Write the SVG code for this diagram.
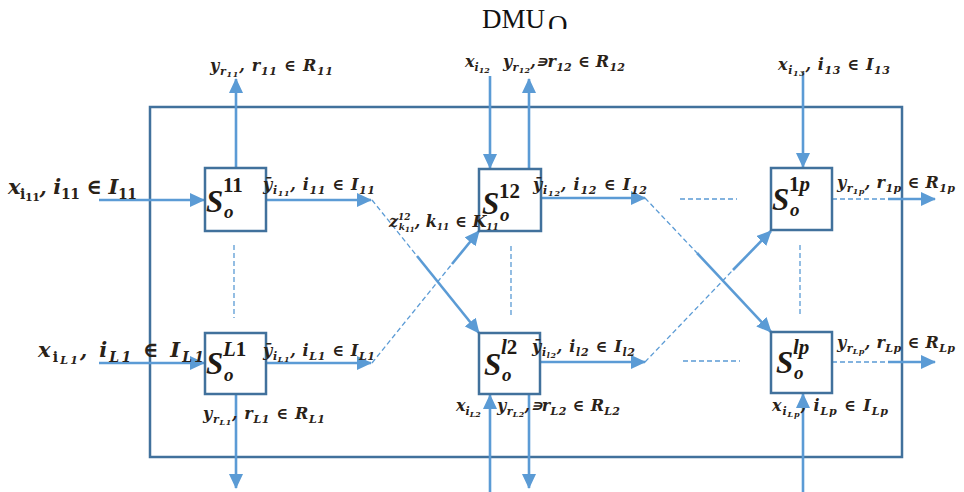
<svg xmlns="http://www.w3.org/2000/svg" width="964" height="492" viewBox="0 0 964 492">
<style>
.box{fill:#fff;stroke:#41719C;stroke-width:2.5}
.frame{fill:none;stroke:#41719C;stroke-width:2.5}
.ar{fill:none;stroke:#5B9BD5;stroke-width:2.6}
.ds{fill:none;stroke:#5B9BD5;stroke-width:1.3;stroke-dasharray:5 3}
.m{font-family:"DejaVu Serif",serif;font-style:italic;font-weight:bold;font-size:16px;fill:#2a2218}
.big{font-family:"DejaVu Serif",serif;font-style:italic;font-weight:bold;font-size:21px;fill:#2a2218}
.s1{font-size:11px}
.s2{font-size:8px}
.b1{font-size:14px}
.S{font-family:"Liberation Serif",serif;font-style:italic;font-weight:bold;font-size:31px;fill:#1f1a14}
.sup{font-family:"Liberation Serif",serif;font-weight:bold;font-size:21px;fill:#1f1a14}
.sub{font-family:"Liberation Serif",serif;font-style:italic;font-weight:bold;font-size:19px;fill:#1f1a14}
.t{font-family:"Liberation Serif",serif;font-size:27px;fill:#111}
</style>
<defs>
<marker id="ah" viewBox="0 0 15 14" refX="14" refY="7" markerWidth="15" markerHeight="14" markerUnits="userSpaceOnUse" orient="auto">
<path d="M0,0 L15,7 L0,14 z" fill="#5B9BD5"/>
</marker>
<clipPath id="clipO"><rect x="540" y="0" width="40" height="29"/></clipPath>
</defs>

<text class="t" x="482" y="28">DMU</text>
<text class="t" x="548" y="34" font-size="18" clip-path="url(#clipO)">O</text>

<rect class="frame" x="150" y="107" width="752" height="350"/>

<g id="connectors">
<line class="ar" x1="236" y1="168" x2="236" y2="79" marker-end="url(#ah)"/>
<line class="ar" x1="490" y1="76" x2="490" y2="168" marker-end="url(#ah)"/>
<line class="ar" x1="529" y1="169" x2="529" y2="79" marker-end="url(#ah)"/>
<line class="ar" x1="803" y1="72" x2="803" y2="167" marker-end="url(#ah)"/>
<line class="ar" x1="99" y1="200" x2="204" y2="200" marker-end="url(#ah)"/>
<line class="ar" x1="99" y1="363" x2="204" y2="363" marker-end="url(#ah)"/>
<line class="ar" x1="266" y1="200" x2="371" y2="200" marker-end="url(#ah)"/>
<line class="ar" x1="266" y1="363" x2="371" y2="363" marker-end="url(#ah)"/>
<line class="ar" x1="541" y1="198" x2="645" y2="198" marker-end="url(#ah)"/>
<line class="ar" x1="540" y1="362" x2="645" y2="362" marker-end="url(#ah)"/>
<line class="ds" x1="372" y1="200" x2="417" y2="256"/>
<line class="ar" x1="417" y1="256" x2="479" y2="333" marker-end="url(#ah)"/>
<line class="ds" x1="372" y1="363" x2="452" y2="264"/>
<line class="ar" x1="452" y1="264" x2="479" y2="231" marker-end="url(#ah)"/>
<line class="ds" x1="645" y1="198" x2="697" y2="253"/>
<line class="ar" x1="697" y1="253" x2="771" y2="332" marker-end="url(#ah)"/>
<line class="ds" x1="645" y1="362" x2="733" y2="270"/>
<line class="ar" x1="733" y1="270" x2="771" y2="231" marker-end="url(#ah)"/>
<line class="ds" x1="832" y1="199" x2="890" y2="199"/>
<line class="ar" x1="888" y1="199" x2="935" y2="199" marker-end="url(#ah)"/>
<line class="ds" x1="832" y1="362" x2="890" y2="362"/>
<line class="ar" x1="888" y1="362" x2="935" y2="362" marker-end="url(#ah)"/>
<line class="ar" x1="236" y1="394" x2="236" y2="488" marker-end="url(#ah)"/>
<line class="ar" x1="490" y1="492" x2="490" y2="395" marker-end="url(#ah)"/>
<line class="ar" x1="529" y1="394" x2="529" y2="488" marker-end="url(#ah)"/>
<line class="ar" x1="803" y1="492" x2="803" y2="394" marker-end="url(#ah)"/>
<line class="ds" x1="234" y1="245" x2="234" y2="318"/>
<line class="ds" x1="511" y1="246" x2="511" y2="318"/>
<line class="ds" x1="800" y1="245" x2="800" y2="316"/>
<line class="ds" x1="680" y1="199" x2="737" y2="199"/>
<line class="ds" x1="683" y1="361" x2="740" y2="361"/>
</g>

<g id="node-S11">
<rect class="box" x="205" y="168" width="61" height="63"/>
<text class="S" x="206" y="212">S</text>
<text class="sup" x="223" y="192">11</text>
<text class="sub" x="224" y="218">o</text>
</g>
<g id="node-S12">
<rect class="box" x="479" y="169" width="62" height="62"/>
<text class="S" x="482" y="214">S</text>
<text class="sup" x="499" y="198">12</text>
<text class="sub" x="500" y="221">o</text>
</g>
<g id="node-S1p">
<rect class="box" x="771" y="168" width="61" height="62"/>
<text class="S" x="772" y="210">S</text>
<text class="sup" x="789" y="191">1<tspan font-style="italic">p</tspan></text>
<text class="sub" x="790" y="216">o</text>
</g>
<g id="node-SL1">
<rect class="box" x="205" y="333" width="61" height="61"/>
<text class="S" x="206" y="374">S</text>
<text class="sup" x="223" y="356"><tspan font-style="italic">L</tspan>1</text>
<text class="sub" x="224" y="381">o</text>
</g>
<g id="node-Sl2">
<rect class="box" x="479" y="333" width="61" height="61"/>
<text class="S" x="484" y="375">S</text>
<text class="sup" x="501" y="354"><tspan font-style="italic">l</tspan>2</text>
<text class="sub" x="502" y="381">o</text>
</g>
<g id="node-Slp">
<rect class="box" x="771" y="332" width="61" height="61"/>
<text class="S" x="776" y="373">S</text>
<text class="sup" x="793" y="354" font-style="italic">lp</text>
<text class="sub" x="794" y="379">o</text>
</g>

<g id="labels">
<text class="m" x="210" y="71" textLength="123" lengthAdjust="spacing">y<tspan class="s1" dy="4">r</tspan><tspan class="s2" dy="2">11</tspan><tspan dy="-6">, r</tspan><tspan class="s1" dy="4">11</tspan><tspan dy="-4"> ∈ R</tspan><tspan class="s1" dy="4">11</tspan></text>
<text class="m" x="465" y="67">x<tspan class="s1" dy="4">i</tspan><tspan class="s2" dy="2">12</tspan></text>
<text class="m" x="503" y="67" textLength="122" lengthAdjust="spacing">y<tspan class="s1" dy="4">r</tspan><tspan class="s2" dy="2">12</tspan><tspan dy="-6">,∍r</tspan><tspan class="s1" dy="4">12</tspan><tspan dy="-4"> ∈ R</tspan><tspan class="s1" dy="4">12</tspan></text>
<text class="m" x="778" y="70" textLength="112" lengthAdjust="spacing">x<tspan class="s1" dy="4">i</tspan><tspan class="s2" dy="2">13</tspan><tspan dy="-6">, i</tspan><tspan class="s1" dy="4">13</tspan><tspan dy="-4"> ∈ I</tspan><tspan class="s1" dy="4">13</tspan></text>

<text class="big" x="8" y="194" textLength="129" lengthAdjust="spacing">x<tspan class="b1" dy="5" font-style="normal">i</tspan><tspan class="s1" dy="2" font-style="normal">11</tspan><tspan dy="-7">, i</tspan><tspan class="b1" dy="5" font-style="normal">11</tspan><tspan dy="-5"> ∈ I</tspan><tspan class="b1" dy="5" font-style="normal">11</tspan></text>
<text class="big" x="38" y="357" textLength="166" lengthAdjust="spacing">x<tspan class="b1" dy="5" font-style="normal">i</tspan><tspan class="s1" dy="2">L1</tspan><tspan dy="-7">, i</tspan><tspan class="b1" dy="5">L1</tspan><tspan dy="-5"> ∈ I</tspan><tspan class="b1" dy="5">L1</tspan></text>

<text class="m" x="263" y="190" textLength="112" lengthAdjust="spacing">ȳ<tspan class="s1" dy="4">i</tspan><tspan class="s2" dy="2">11</tspan><tspan dy="-6">, i</tspan><tspan class="s1" dy="4">11</tspan><tspan dy="-4"> ∈ I</tspan><tspan class="s1" dy="4">11</tspan></text>
<text class="m" x="263" y="356" textLength="112" lengthAdjust="spacing">ȳ<tspan class="s1" dy="4">i</tspan><tspan class="s2" dy="2">L1</tspan><tspan dy="-6">, i</tspan><tspan class="s1" dy="4">L1</tspan><tspan dy="-4"> ∈ I</tspan><tspan class="s1" dy="4">L1</tspan></text>
<text class="m" x="389" y="227" font-size="13">z<tspan font-size="9" dy="-7">12</tspan><tspan font-size="9" dx="-12" dy="10">k</tspan><tspan font-size="7" dy="2">11</tspan><tspan dy="-5">, k</tspan><tspan font-size="9" dy="3">11</tspan><tspan dy="-3"> ∈ K</tspan><tspan font-size="9" dy="3">11</tspan></text>
<text class="m" x="533" y="190" textLength="114" lengthAdjust="spacing">ȳ<tspan class="s1" dy="4">i</tspan><tspan class="s2" dy="2">12</tspan><tspan dy="-6">, i</tspan><tspan class="s1" dy="4">12</tspan><tspan dy="-4"> ∈ I</tspan><tspan class="s1" dy="4">12</tspan></text>
<text class="m" x="532" y="352" textLength="103" lengthAdjust="spacing">ȳ<tspan class="s1" dy="4">i</tspan><tspan class="s2" dy="2">l2</tspan><tspan dy="-6">, i</tspan><tspan class="s1" dy="4">l2</tspan><tspan dy="-4"> ∈ I</tspan><tspan class="s1" dy="4">l2</tspan></text>
<text class="m" x="837" y="188" textLength="118" lengthAdjust="spacing">y<tspan class="s1" dy="4">r</tspan><tspan class="s2" dy="2">1p</tspan><tspan dy="-6">, r</tspan><tspan class="s1" dy="4">1p</tspan><tspan dy="-4"> ∈ R</tspan><tspan class="s1" dy="4">1p</tspan></text>
<text class="m" x="837" y="348" textLength="118" lengthAdjust="spacing">y<tspan class="s1" dy="4">r</tspan><tspan class="s2" dy="2">Lp</tspan><tspan dy="-6">, r</tspan><tspan class="s1" dy="4">Lp</tspan><tspan dy="-4"> ∈ R</tspan><tspan class="s1" dy="4">Lp</tspan></text>
<text class="m" x="203" y="419" textLength="122" lengthAdjust="spacing">y<tspan class="s1" dy="4">r</tspan><tspan class="s2" dy="2">L1</tspan><tspan dy="-6">, r</tspan><tspan class="s1" dy="4">L1</tspan><tspan dy="-4"> ∈ R</tspan><tspan class="s1" dy="4">L1</tspan></text>
<text class="m" x="456" y="411">x<tspan class="s1" dy="4">i</tspan><tspan class="s2" dy="2">L2</tspan></text>
<text class="m" x="497" y="411" textLength="123" lengthAdjust="spacing">y<tspan class="s1" dy="4">r</tspan><tspan class="s2" dy="2">L2</tspan><tspan dy="-6">,∍r</tspan><tspan class="s1" dy="4">L2</tspan><tspan dy="-4"> ∈ R</tspan><tspan class="s1" dy="4">L2</tspan></text>
<text class="m" x="772" y="411" textLength="116" lengthAdjust="spacing">x<tspan class="s1" dy="4">i</tspan><tspan class="s2" dy="2">Lp</tspan><tspan dy="-6">, i</tspan><tspan class="s1" dy="4">Lp</tspan><tspan dy="-4"> ∈ I</tspan><tspan class="s1" dy="4">Lp</tspan></text>
</g>
</svg>
